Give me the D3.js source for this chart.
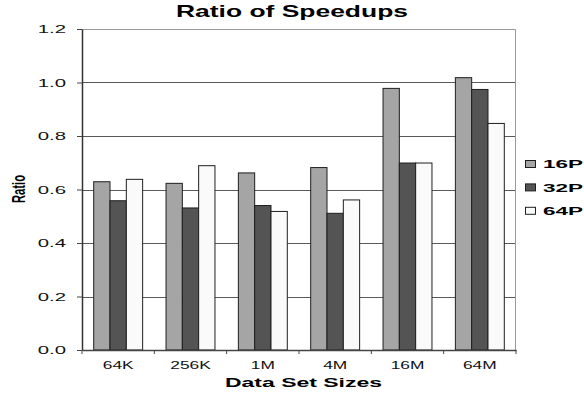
<!DOCTYPE html>
<html>
<head>
<meta charset="utf-8">
<script src="https://cdn.jsdelivr.net/npm/d3@7"></script>
<style>
  body { margin: 0; background: #fff; }
  svg { display: block; font-family: "Liberation Sans", Arial, sans-serif; }
</style>
</head>
<body>
<svg width="584" height="393"></svg>
<script>
const categories = ["64K", "256K", "1M", "4M", "16M", "64M"];
const seriesNames = ["16P", "32P", "64P"];
const s16P = [0.629, 0.623, 0.662, 0.682, 0.978, 1.018];
const s32P = [0.558, 0.531, 0.540, 0.511, 0.699, 0.974];
const s64P = [0.638, 0.689, 0.518, 0.561, 0.699, 0.847];
const yTicks = [0, 0.2, 0.4, 0.6, 0.8, 1.0, 1.2];

const series = [s16P, s32P, s64P];
const colors = ["#a5a5a5", "#545454", "#fafafa"];

const margin = { left: 82, right: 68, top: 29, bottom: 43 };
const width = 584 - margin.left - margin.right; // 434
const height = 393 - margin.top - margin.bottom; // 321

// the picture's text is drawn wide, so stretch it horizontally
function stretch(sel, k) {
  sel.each(function () {
    const w = this.getComputedTextLength();
    d3.select(this).attr("textLength", w * k).attr("lengthAdjust", "spacingAndGlyphs");
  });
}

const svg = d3.select("svg");
const g = svg.append("g").attr("transform", `translate(${margin.left},${margin.top})`);

const x = d3.scaleBand().domain(categories).range([0, width]).paddingInner(0).paddingOuter(0);
const xInner = d3.scaleBand().domain(seriesNames).range([11.7, x.bandwidth() - 11.7]); // bars in group
const y = d3.scaleLinear().domain([0, 1.2]).range([height, 0]);

// gridlines
g.selectAll("line.grid")
  .data(yTicks.slice(1, -1))
  .enter().append("line")
  .attr("x1", 0).attr("x2", width)
  .attr("y1", d => Math.round(y(d)) + 0.5).attr("y2", d => Math.round(y(d)) + 0.5)
  .attr("stroke", "#5a5a5a").attr("stroke-width", 1);

// plot border top/right
g.append("path")
  .attr("d", `M0,0.5H${width - 0.5}V${height}`)
  .attr("fill", "none").attr("stroke", "#999").attr("stroke-width", 1);

// bars
const groups = g.selectAll("g.cat")
  .data(categories)
  .enter().append("g")
  .attr("transform", d => `translate(${x(d)},0)`);

groups.selectAll("rect")
  .data((d, i) => seriesNames.map((s, j) => ({ s, v: series[j][i], c: colors[j] })))
  .enter().append("rect")
  .attr("x", d => xInner(d.s))
  .attr("width", xInner.bandwidth())
  .attr("y", d => y(d.v))
  .attr("height", d => height - y(d.v))
  .attr("fill", d => d.c)
  .attr("stroke", "#1e1e1e")
  .attr("stroke-width", 1);

// y axis
const yAxis = g.append("g")
  .call(d3.axisLeft(y).tickValues(yTicks).tickFormat(d3.format(".1f")).tickSize(5).tickSizeOuter(0));
yAxis.select(".domain").attr("stroke", "#333").attr("stroke-width", 1.5);
yAxis.selectAll(".tick line").attr("stroke", "#444");
yAxis.selectAll(".tick text")
  .attr("font-size", 11).attr("fill", "#111")
  .attr("font-family", "Liberation Sans, Arial, sans-serif")
  .attr("x", -16).attr("dy", "0.36em");
stretch(yAxis.selectAll(".tick text"), 1.85);

// x axis
const xAxis = g.append("g")
  .attr("transform", `translate(0,${height})`)
  .call(d3.axisBottom(x).tickSize(0).tickSizeOuter(0));
xAxis.select(".domain").attr("stroke", "#444").attr("stroke-width", 1.3);
xAxis.selectAll(".tick text")
  .attr("font-size", 10.5).attr("fill", "#111")
  .attr("font-family", "Liberation Sans, Arial, sans-serif")
  .attr("y", 19).attr("dy", 0);
stretch(xAxis.selectAll(".tick text"), 1.65);
xAxis.selectAll("line.xt")
  .data(d3.range(categories.length + 1))
  .enter().append("line")
  .attr("x1", d => d * x.step()).attr("x2", d => d * x.step())
  .attr("y1", 0).attr("y2", 4)
  .attr("stroke", "#444");

// titles
svg.append("text")
  .attr("x", 292).attr("y", 16.5)
  .attr("text-anchor", "middle")
  .attr("font-size", 16.5).attr("font-weight", "bold")
  .attr("textLength", 232).attr("lengthAdjust", "spacingAndGlyphs")
  .text("Ratio of Speedups");

svg.append("text")
  .attr("x", 303.5).attr("y", 386.5)
  .attr("text-anchor", "middle")
  .attr("font-size", 12.5).attr("font-weight", "bold")
  .attr("textLength", 157).attr("lengthAdjust", "spacingAndGlyphs")
  .text("Data Set Sizes");

svg.append("text")
  .attr("transform", "translate(25,189) rotate(-90)")
  .attr("text-anchor", "middle")
  .attr("font-size", 19).attr("font-weight", "bold")
  .attr("textLength", 28).attr("lengthAdjust", "spacingAndGlyphs")
  .text("Ratio");

// legend
const legend = svg.append("g").attr("transform", "translate(525,164)");
const li = legend.selectAll("g")
  .data(seriesNames)
  .enter().append("g")
  .attr("transform", (d, i) => `translate(0,${i * 23.4})`);
li.append("rect")
  .attr("x", 0.5).attr("y", -3.5).attr("width", 10).attr("height", 7)
  .attr("fill", (d, i) => colors[i]).attr("stroke", "#1e1e1e");
li.append("text")
  .attr("x", 18).attr("y", 0).attr("dy", "0.36em")
  .attr("font-size", 11.5).attr("font-weight", "bold")
  .attr("textLength", 40).attr("lengthAdjust", "spacingAndGlyphs")
  .text(d => d);
</script>
</body>
</html>
